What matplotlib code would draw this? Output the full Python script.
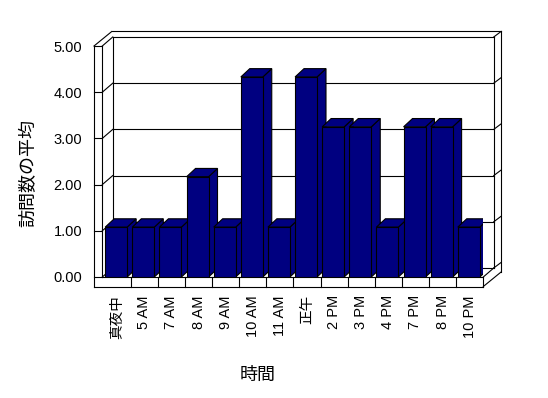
import matplotlib.pyplot as plt
from matplotlib.patches import Polygon

plt.rcParams['font.family'] = ['Liberation Sans', 'Noto Sans CJK JP']

# data
hours = ['真夜中', '5 AM', '7 AM', '8 AM', '9 AM', '10 AM', '11 AM',
         '正午', '2 PM', '3 PM', '4 PM', '7 PM', '8 PM', '10 PM']
visits = [1.08, 1.08, 1.08, 2.17, 1.08, 4.33, 1.08,
          4.33, 3.25, 3.25, 1.08, 3.25, 3.25, 1.08]
yticks = [0, 1, 2, 3, 4, 5]
ytick_labels = ['0.00', '1.00', '2.00', '3.00', '4.00', '5.00']

W, H = 548, 398
fig = plt.figure(figsize=(W / 100, H / 100), dpi=100)
ax = fig.add_axes([103.6 / W, 121 / H, 379.7 / W, 231 / H])
n = len(hours)
ymax = yticks[-1]
ax.set_xlim(0, n)
ax.set_ylim(0, ymax)

# box geometry (data units)
xl = -0.048          # inner edge of left wall
xo = xl - 0.306      # outer edge of left wall
fh = 0.206           # floor thickness
Dx, Dy = 0.385, 0.195   # depth of the box
Tx, Ty = 0.27, 0.119    # wall thickness going back
lw = 0.8
navy = '#000080'


def seg(xs, ys):
    ax.plot(xs, ys, color='k', lw=lw, clip_on=False, zorder=1,
            solid_capstyle='projecting')


# floor front + left wall front
seg([xo, xo], [-fh, ymax])
seg([xl, xl], [0, ymax])
seg([xo, n], [-fh, -fh])
seg([xl, n], [0, 0])
seg([n, n], [-fh, 0])
for i in range(1, n):
    seg([i, i], [-fh, 0])

# ticks across left wall, gridlines on back wall
for k in yticks:
    seg([xo, xl], [k, k])
    seg([xl, xl + Dx], [k, k + Dy])
    seg([xl + Dx, n + Dx], [k + Dy, k + Dy])
    seg([n + Dx, n + Dx + Tx], [k + Dy, k + Dy + Ty])

seg([xl + Dx, xl + Dx], [Dy, ymax + Dy])
seg([n + Dx, n + Dx], [Dy, ymax + Dy])
seg([n + Dx + Tx, n + Dx + Tx], [-fh + Dy + Ty, ymax + Dy + Ty])
seg([xo, xo + Dx + Tx], [ymax, ymax + Dy + Ty])
seg([xo + Dx + Tx, n + Dx + Tx], [ymax + Dy + Ty, ymax + Dy + Ty])
seg([n, n + Dx], [0, Dy])
seg([n, n + Dx + Tx], [-fh, -fh + Dy + Ty])

# 3d bars
off, bw = 0.06, 0.81
bx, by = 0.33, 0.18
for i, v in enumerate(visits):
    x0 = i + off
    x1 = x0 + bw
    side = Polygon([(x1, 0), (x1 + bx, by), (x1 + bx, v + by), (x1, v)],
                   closed=True, facecolor=navy, edgecolor='k', lw=lw, zorder=2)
    top = Polygon([(x0, v), (x1, v), (x1 + bx, v + by), (x0 + bx, v + by)],
                  closed=True, facecolor=navy, edgecolor='k', lw=lw, zorder=2)
    ax.add_patch(side)
    ax.add_patch(top)
ax.bar([i + off for i in range(n)], visits, width=bw, align='edge',
       color=navy, edgecolor='k', lw=lw, zorder=3)

for s in ax.spines.values():
    s.set_visible(False)
ax.set_yticks(yticks)
ax.set_yticklabels(ytick_labels, fontsize=10.5)
ax.set_xticks([i + 0.5 for i in range(n)])
ax.set_xticklabels(hours, rotation=90, fontsize=10.5)
ax.tick_params(axis='y', length=0, pad=15.5)
ax.tick_params(axis='x', length=0, pad=13)

ax.set_xlabel('時間', fontsize=13)
ax.xaxis.set_label_coords((258 - 103.6) / 379.7, (277 - 375) / 231)
ax.xaxis.label.set_va('center')
ax.set_ylabel('訪問数の平均', fontsize=13)
ax.yaxis.set_label_coords((28.5 - 103.6) / 379.7, (277 - 173) / 231)
ax.yaxis.label.set_va('center')

fig.savefig('out.png', dpi=100)
